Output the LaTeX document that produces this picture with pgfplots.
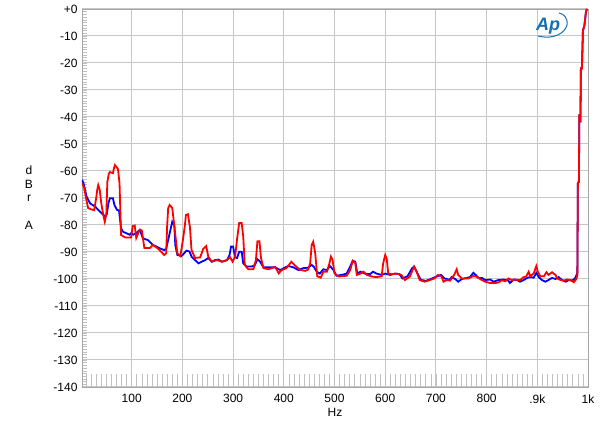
\documentclass[border=0pt]{standalone}
\usepackage{fontspec}
\setmainfont{Liberation Sans}
\usepackage{pgfplots}
\pgfplotsset{compat=1.18}
\definecolor{apblue}{RGB}{20,110,175}
\begin{document}
\begin{tikzpicture}
\path[use as bounding box] (-82pt,-43pt) rectangle (518pt,387pt);
\begin{axis}[
 scale only axis, width=506pt, height=378pt,
 at={(0pt,0pt)}, anchor=south west,
 xmin=2, xmax=1000, ymin=-140, ymax=0,
 xtick={100,200,...,1000},
 xticklabels={100,200,300,400,500,600,700,800,.9k,1k},
 ytick={-140,-130,...,0},
 yticklabels={-140,-130,-120,-110,-100,-90,-80,-70,-60,-50,-40,-30,-20,-10,+0},
 xtick pos=bottom, ytick pos=left,
 tick align=inside,
 grid=major, major grid style={black!22, line width=1pt},
 axis line style={black!35, line width=0.9pt},
 major tick length=0pt,
 minor ytick={-139,-138,...,-1},
 minor tick length=5pt,
 minor tick style={black!25, line width=0.5pt},
 extra x ticks={10,20,...,990},
 extra x tick labels={},
 extra x tick style={major tick length=13pt, grid=none, tick style={black!25, line width=0.6pt}},
 ticklabel style={font=\fontsize{12}{14}\selectfont},
 xticklabel style={yshift=-4pt},
 yticklabel style={xshift=-1pt},
]
\addplot[blue, line width=1.8pt] coordinates {
(2,-63.3) (5,-64.5) (11,-69.5) (18,-72) (28,-73.2) (34,-74.4) (41,-75.7) (48,-76.9)
(51,-76) (54,-72) (57,-70.1) (63,-70.1) (66,-72.6) (71,-74.4) (75,-74.6) (79,-81.2)
(83,-82.5) (89,-83) (96,-83.6) (99,-83) (103,-83.6) (109,-83) (116,-81.8) (122,-84.9)
(132,-85.6) (142,-87.4) (149,-88) (155,-88.6) (164,-89.3) (168,-88.8) (175,-83) (180,-78.8)
(184,-80) (186,-87.4) (190,-91.1) (198,-91.5) (201,-91) (208,-89.5) (214,-89.8) (218,-91.7)
(225,-93) (232,-94.2) (238,-93.6) (245,-93) (251,-92.2) (258,-93.6) (264,-93) (271,-92.8)
(278,-93.6) (288,-93) (293,-91.1) (296,-88) (300,-88) (304,-92) (308,-92.2) (312,-89.9)
(317,-89.9) (320,-94.2) (327,-95.4) (337,-95.4) (343,-94.8) (348,-92.7) (353,-93.5) (360,-95.7)
(373,-95.7) (383,-95.7) (393,-96.7) (403,-95.7) (409,-95.2) (419,-95.7) (429,-96.7) (438,-96)
(448,-95.8) (455,-94.8) (459,-95.4) (465,-97.3) (471,-98) (478,-96.4) (485,-96.7) (491,-95.2)
(498,-96.7) (504,-98.8) (514,-98.5) (524,-98) (531,-95.4) (536,-93.2) (541,-93.6) (545,-98)
(551,-97.3) (560,-98) (570,-98.2) (576,-97.3) (583,-98) (593,-98.5) (600,-98) (610,-98.5)
(619,-98) (628,-98.2) (634,-99.8) (644,-99) (653,-96) (657,-95.4) (662,-97.3) (670,-100.3)
(680,-100.7) (690,-100) (700,-99.2) (710,-98.5) (717,-99.8) (727,-100.3) (731,-99.3) (738,-100)
(744,-101) (751,-100) (761,-99.6) (767,-99.3) (774,-97.7) (779,-98.6) (784,-99.6) (791,-99.6)
(797,-100.4) (807,-100.2) (814,-101) (823,-100.4) (833,-100.2) (843,-100.6) (846,-101.5) (853,-100.2)
(860,-100.4) (866,-101) (873,-100.4) (880,-99.6) (886,-99.3) (893,-99.5) (898,-97.7) (903,-99.3)
(909,-100.4) (916,-101) (922,-100.4) (929,-99.6) (936,-100) (942,-99.3) (949,-100.4) (956,-101)
(962,-100.4) (969,-100.6) (975,-99.6) (979,-97.7) (980,-64.6) (982,-64) (983,-39) (985,-42)
(986,-22) (988,-22) (990,-8) (993,-6) (996,-1) (998,0)
};
\addplot[red, line width=1.8pt] coordinates {
(2,-64.5) (6,-66) (10,-70) (14,-73.7) (20,-74.2) (26,-74.5) (30,-70) (32,-67)
(34,-65.2) (37,-67) (40,-72) (44,-76.3) (47,-78.8) (50,-76) (52,-64) (55,-61)
(57,-60.4) (63,-60.8) (65,-59) (67,-57.8) (70,-58.5) (73,-59.3) (76,-64.5) (79,-83.7)
(87,-84.6) (99,-84.6) (102,-80.4) (106,-80.2) (109,-84.8) (113,-83) (116,-81.8) (120,-82)
(125,-88.5) (136,-88.5) (142,-87.4) (150,-88.5) (155,-89.3) (164,-91.1) (168,-90.5) (170,-80)
(172,-73.7) (175,-72.6) (180,-73.7) (185,-81.8) (190,-90.5) (196,-91.5) (201,-85.6) (205,-80)
(207,-76.3) (211,-76) (215,-81) (218,-89.3) (225,-92.2) (235,-92) (241,-88.9) (247,-87.8)
(251,-91.7) (258,-93.6) (268,-93) (278,-93.6) (288,-93) (294,-91.9) (299,-93.6) (304,-91.7)
(308,-85) (312,-79.3) (317,-79.3) (320,-84.3) (323,-94.8) (330,-96.4) (340,-96.4) (345,-93)
(348,-86) (352,-86) (355,-92.2) (360,-96) (370,-96.4) (383,-95.5) (390,-97.9) (396,-96.7)
(405,-96) (415,-93.6) (422,-95) (432,-96.6) (442,-97) (448,-96.5) (452,-94.2) (455,-87.4)
(458,-86.2) (462,-90.5) (466,-99) (473,-99.5) (478,-97.3) (485,-97.3) (490,-94.2) (493,-91.7)
(496,-92.7) (500,-97.9) (508,-99.1) (524,-98.8) (531,-96.7) (536,-93.3) (541,-94) (544,-98.5)
(551,-98) (557,-97.3) (564,-98.5) (574,-99.1) (583,-99.3) (593,-99) (596,-94.2) (600,-91.1)
(603,-92.5) (606,-98) (613,-98.2) (623,-98) (632,-98.5) (639,-100.4) (649,-99) (654,-96.7)
(657,-95.4) (662,-97.3) (668,-100.4) (678,-101) (688,-100.4) (697,-99.8) (704,-98.5) (711,-99)
(715,-101) (721,-100.4) (728,-100.6) (736,-98.5) (741,-96.4) (744,-98.5) (751,-99.8) (764,-99.8)
(774,-98.9) (781,-99.2) (787,-100) (797,-101) (807,-101.5) (817,-101.5) (823,-101.3) (830,-100.5)
(837,-100.8) (843,-99.8) (850,-100.4) (856,-100.2) (866,-100.4) (873,-99.3) (878,-99.1) (883,-97.3)
(886,-99) (893,-97.9) (898,-95.2) (901,-97.3) (906,-99) (913,-99) (918,-97.5) (922,-98.5)
(929,-97.5) (936,-98.5) (939,-99.8) (946,-100.4) (952,-100.6) (959,-100.2) (966,-100.4) (972,-101.2)
(977,-100) (979,-98.5) (980,-64.6) (982,-64) (983,-39) (985,-42) (986,-22) (988,-22)
(990,-8) (993,-6) (996,-1) (998,0)
};
\end{axis}
\node[font=\fontsize{12}{13.7}\selectfont, align=center] at (-53pt,189.5pt) {d\\B\\r\\[13.7pt]A};
\node[font=\fontsize{12}{14}\selectfont] at (253pt,-25pt) {Hz};
\node[font=\fontsize{18}{18}\selectfont\bfseries\itshape, text=apblue, inner sep=0pt] at (466pt,361pt) {Ap};
\draw[apblue, line width=1pt] (456pt,351pt) .. controls (472pt,347pt) and (483pt,354pt) .. (485pt,362pt) .. controls (486pt,369pt) and (482pt,373pt) .. (477pt,374pt);
\end{tikzpicture}
\end{document}
